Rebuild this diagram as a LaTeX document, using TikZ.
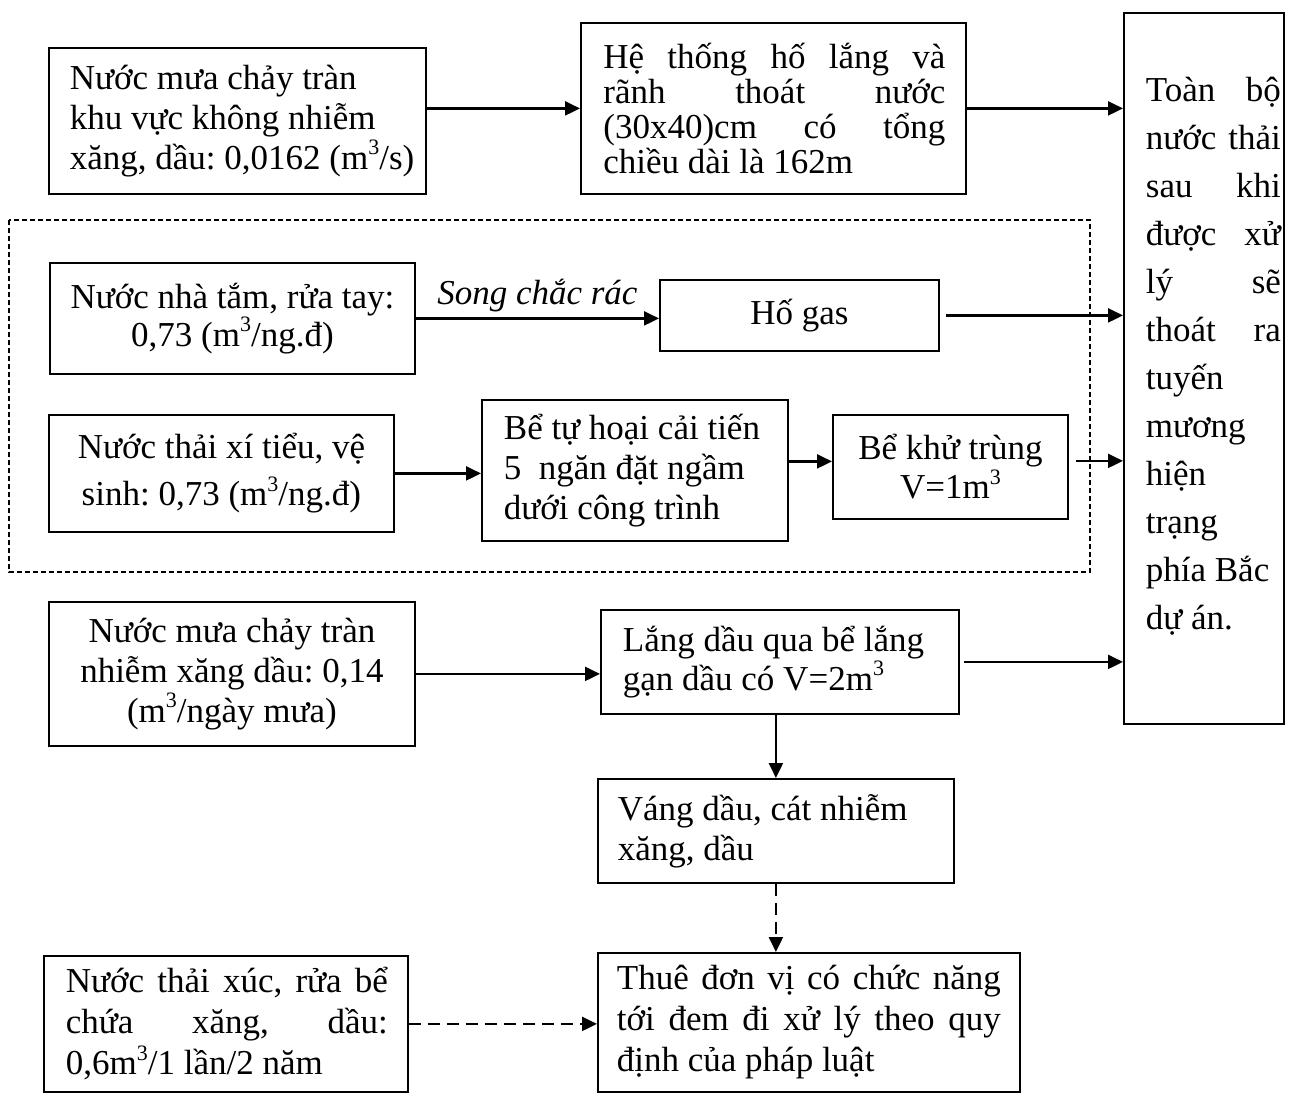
\documentclass[tikz,border=0pt]{standalone}
\usepackage{fontspec}
\setmainfont{Liberation Serif}
\usetikzlibrary{arrows.meta,calc}
\frenchspacing
\newcommand\jline[1]{\makebox[\linewidth][s]{#1}}
\newcommand\supthree{\raisebox{0.42em}{\fontsize{22}{22}\selectfont 3}}
\begin{document}
\begin{tikzpicture}[x=1pt,y=-1pt,
  bx/.style={draw, line width=1.8pt, inner sep=0pt, anchor=north west, rectangle},
  ar/.style={line width=2.2pt, -{Triangle[length=15pt,width=14pt]}},
  dar/.style={ar, dash pattern=on 12pt off 7pt},
  every node/.style={font=\fontsize{35}{40}\selectfont}]
\useasboundingbox (0,0) rectangle (1290,1092);

% dashed frame
\draw[line width=1.3pt, dash pattern=on 5pt off 3pt] (9,220) rectangle (1090,572);

\node[bx, minimum width=377pt, minimum height=146pt] (b1) at (48,47)
  {\hspace*{20pt}\parbox{355pt}{\frenchspacing\raggedright Nước mưa chảy tràn\\ khu vực không nhiễm\\ xăng, dầu: 0,0162 (m\supthree/s)}};

\node[bx, minimum width=385pt, minimum height=171pt] (b2) at (580,22)
  {\hspace*{2pt}\parbox{342pt}{\fontsize{35}{35}\selectfont\jline{Hệ thống hố lắng và}\\ \jline{rãnh thoát nước}\\ \jline{(30x40)cm có tổng}\\ chiều dài là 162m}};

\node[bx, minimum width=160pt, minimum height=711pt] (r) at (1123,12)
  {\hspace*{22pt}\parbox{135pt}{\fontsize{35}{48}\selectfont\jline{Toàn bộ}\\ \jline{nước thải}\\ \jline{sau khi}\\ \jline{được xử}\\ \jline{lý sẽ}\\ \jline{thoát ra}\\ tuyến\\ mương\\ hiện\\ trạng\\ phía Bắc\\ dự án.\par\vspace*{24pt}}\hspace*{3pt}};

\node[bx, minimum width=365pt, minimum height=111pt] (tam) at (49,262)
  {\parbox{350pt}{\frenchspacing\centering\fontsize{35}{36}\selectfont Nước nhà tắm, rửa tay:\\ 0,73 (m\supthree/ng.đ)}};

\node[bx, minimum width=279pt, minimum height=71pt] (gas) at (659,279) {Hố gas};

\node[bx, minimum width=345pt, minimum height=117pt] (xi) at (48,414)
  {\parbox{335pt}{\frenchspacing\centering\fontsize{35}{47}\selectfont Nước thải xí tiểu, vệ\\ sinh: 0,73 (m\supthree/ng.đ)}};

\node[bx, minimum width=306pt, minimum height=141pt] (tuhoai) at (481,399)
  {\hspace*{21pt}\parbox{283pt}{\raggedright\fontsize{35}{40}\selectfont Bể tự hoại cải tiến\\ 5\ \ ngăn đặt ngầm\\ dưới công trình}};

\node[bx, minimum width=235pt, minimum height=104pt] (khu) at (832,414)
  {\parbox{225pt}{\centering\fontsize{35}{39}\selectfont Bể khử trùng\\ V=1m\supthree}};

\node[bx, minimum width=366pt, minimum height=144pt] (mua2) at (48,601)
  {\parbox{356pt}{\frenchspacing\centering\fontsize{35}{40}\selectfont Nước mưa chảy tràn\\ nhiễm xăng dầu: 0,14\\ (m\supthree/ngày mưa)}};

\node[bx, minimum width=358pt, minimum height=104pt] (lang) at (600,609)
  {\hspace*{21pt}\parbox{335pt}{\raggedright\fontsize{35}{39}\selectfont Lắng dầu qua bể lắng\\ gạn dầu có V=2m\supthree}};

\node[bx, minimum width=356pt, minimum height=104pt] (vang) at (597,778)
  {\hspace*{19pt}\parbox{335pt}{\raggedright\fontsize{35}{40}\selectfont Váng dầu, cát nhiễm\\ xăng, dầu}};

\node[bx, minimum width=422pt, minimum height=139pt] (thue) at (597,952)
  {\parbox{384pt}{\fontsize{35}{41}\selectfont\jline{Thuê đơn vị có chức năng}\\ \jline{tới đem đi xử lý theo quy}\\ định của pháp luật}};

\node[bx, minimum width=364pt, minimum height=136pt] (xuc) at (43,955)
  {\hspace*{2pt}\parbox{322pt}{\frenchspacing\fontsize{35}{41}\selectfont\jline{Nước thải xúc, rửa bể}\\ \jline{chứa xăng, dầu:}\\ 0,6m\supthree/1 lần/2 năm}};

% connectors
\draw[ar] (b1.east |- b2.west) -- (b2.west);
\draw[ar] (b2.east) -- (b2.east -| r.west);
\draw[ar] (tam.east) -- (tam.east -| gas.west)
  node[midway, above, inner sep=5pt, font=\fontsize{35}{40}\selectfont\itshape] {Song chắc rác};
\draw[ar, shorten <=6pt] (gas.east) -- (gas.east -| r.west);
\draw[ar] (xi.east) -- (xi.east -| tuhoai.west);
\draw[ar] ([yshift=9pt]tuhoai.east) -- ([yshift=9pt]tuhoai.east -| khu.west);
\draw[ar, shorten <=7pt] ([yshift=6pt]khu.east) -- ([yshift=6pt]khu.east -| r.west);
\draw[ar] (mua2.east) -- (mua2.east -| lang.west);
\draw[ar, shorten <=4pt] (lang.east) -- (lang.east -| r.west);
\draw[ar] (vang.north |- lang.south) -- (vang.north);
\draw[dar] (vang.south) -- (vang.south |- thue.north);
\draw[dar] (xuc.east) -- (xuc.east -| thue.west);
\end{tikzpicture}
\end{document}
